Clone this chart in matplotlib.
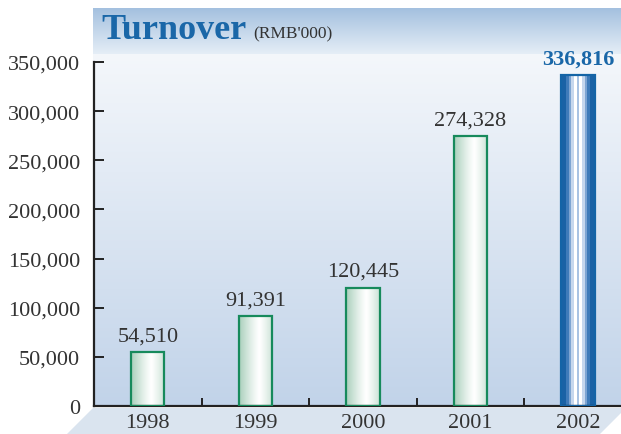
import numpy as np
import matplotlib
matplotlib.use("Agg")
import matplotlib.pyplot as plt
from matplotlib.colors import to_rgb
from matplotlib.patches import Polygon
from matplotlib.ticker import FuncFormatter, MultipleLocator

years = ["1998", "1999", "2000", "2001", "2002"]
turnover = [54510, 91391, 120445, 274328, 336816]
title = "Turnover"
unit = "(RMB'000)"

W, H = 621, 435
fig = plt.figure(figsize=(W / 100, H / 100), dpi=100)
fig.patch.set_facecolor("white")
serif = ["Liberation Serif", "DejaVu Serif"]

def fx(px):
    return px / W

def fy(py):
    return 1 - py / H

# bottom parallelogram (behind everything)
poly = Polygon([(fx(93), fy(409)), (fx(626), fy(409)), (fx(600), fy(435)), (fx(67), fy(435))],
               closed=True, transform=fig.transFigure, facecolor="#dae4ef", edgecolor="none",
               zorder=-5)
fig.patches.append(poly)

# background panel gradient
panel_left, panel_top, panel_bottom = 93, 9, 407
bg = fig.add_axes([fx(panel_left), fy(panel_bottom), 1 - fx(panel_left), (panel_bottom - panel_top) / H])
bg.set_zorder(-2)
bg.set_axis_off()
n = panel_bottom - panel_top
col = np.zeros((n, 1, 3))
band = 46
c0, c1 = np.array(to_rgb("#a4c0df")), np.array(to_rgb("#e6eef7"))
c2, c3 = np.array(to_rgb("#f4f7fb")), np.array(to_rgb("#c1d3e9"))
for i in range(n):
    if i < band:
        t = i / band
        col[i, 0] = c0 * (1 - t) + c1 * t
    else:
        t = (i - band) / (n - band)
        col[i, 0] = c2 * (1 - t) + c3 * t
bg.imshow(col, aspect="auto", extent=[0, 1, 0, 1], interpolation="bilinear")
bg.set_xlim(0, 1)
bg.set_ylim(0, 1)

# main axes
ax = fig.add_axes([fx(94), fy(407), 1 - fx(94), (407 - 63) / H])
ax.set_facecolor("none")
ax.set_xlim(-0.5, 4.4)
ax.set_ylim(0, 350000)

x = np.arange(len(years))
bw = 0.31
bars = ax.bar(x, turnover, width=bw, facecolor="none", zorder=3)

green_prof = []
for t in np.linspace(0, 1, 60):
    d = abs(t - 0.6) / 0.6
    s = min(1.0, d) ** 1.2
    c = np.array(to_rgb("#ffffff")) * (1 - s) + np.array(to_rgb("#a9cfbb")) * s
    green_prof.append(c)
green_img = np.array([green_prof])

blue_cols = ["#1a62a5", "#1a62a5", "#3f7bb9", "#7ea5d2", "#c6d7ed", "#ffffff", "#a9c3e3",
             "#ffffff", "#c6d7ed", "#7ea5d2", "#3f7bb9", "#1a62a5", "#1a62a5"]
blue_img = np.array([[to_rgb(c) for c in blue_cols]])

for i, b in enumerate(bars):
    x0, w, h = b.get_x(), b.get_width(), b.get_height()
    last = i == len(bars) - 1
    img = blue_img if last else green_img
    ax.imshow(img, aspect="auto", extent=[x0, x0 + w, 0, h], zorder=2,
              interpolation="nearest" if last else "bilinear")
    b.set_edgecolor("#1464a6" if last else "#178a5c")
    b.set_linewidth(1.6)
    lbl = f"{turnover[i]:,}"
    ax.annotate(lbl, (x[i], h), xytext=(0, 8.5), textcoords="offset points",
                ha="center", va="baseline", fontsize=16, family=serif,
                color="#1a67a8" if last else "#333333",
                fontweight="bold" if last else "normal", annotation_clip=False, zorder=5)

ax.set_xlim(-0.5, 4.4)
ax.set_ylim(0, 350000)

for s in ["top", "right"]:
    ax.spines[s].set_visible(False)
for s in ["left", "bottom"]:
    ax.spines[s].set_color("#222222")
    ax.spines[s].set_linewidth(1.6)

ax.yaxis.set_major_locator(MultipleLocator(50000))
ax.yaxis.set_major_formatter(FuncFormatter(lambda v, p: f"{int(v):,}"))
ax.tick_params(axis="y", direction="in", length=7, width=1.4, color="#222222",
               pad=10, labelsize=16, labelcolor="#333333")
ax.set_xticks(x)
ax.set_xticklabels(years)
ax.set_xticks(x[:-1] + 0.5, minor=True)
ax.tick_params(axis="x", which="major", length=0, pad=5, labelsize=16, labelcolor="#333333")
ax.tick_params(axis="x", which="minor", direction="in", length=6, width=1.4, color="#222222")
for lab in ax.get_xticklabels() + ax.get_yticklabels():
    lab.set_family(serif)

fig.text(fx(101), fy(39), title, fontsize=26, fontweight="bold", family=serif,
         color="#1a67a8", va="baseline", ha="left")
fig.text(fx(253), fy(38), unit, fontsize=12.5, family=serif, color="#333333",
         va="baseline", ha="left")

fig.savefig("out.png", dpi=100)
